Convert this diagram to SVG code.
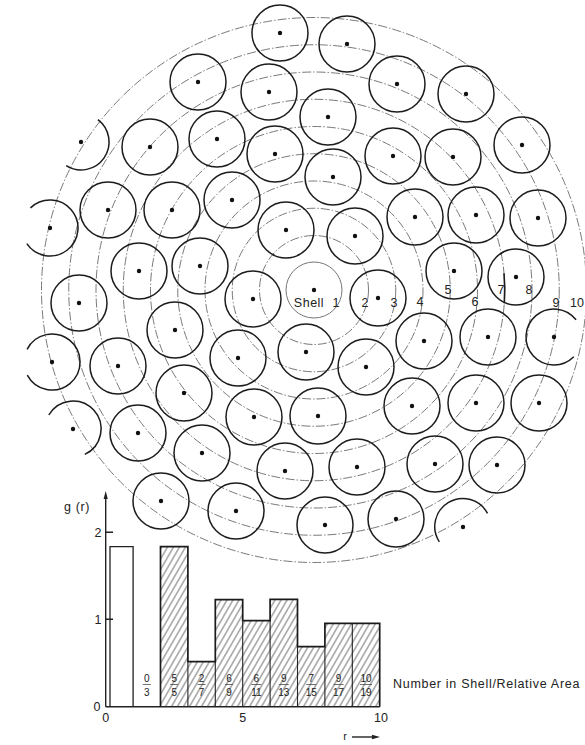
<svg xmlns="http://www.w3.org/2000/svg" width="585" height="745" viewBox="0 0 585 745">
<style>
.p{fill:none;stroke:#1c1c1c;stroke-width:1.5}
.d{fill:#111}
.ring{fill:none;stroke:#6a6a6a;stroke-width:0.9;stroke-dasharray:9 2 1.5 2}
.t{font-family:"Liberation Sans",Arial,sans-serif;fill:#222}
.lbl{font-size:12.5px;text-anchor:middle}
.fr{font-size:10px;text-anchor:middle}
.ax{fill:none;stroke:#222;stroke-width:1.4}
.fb{stroke:#333;stroke-width:0.7}
</style>
<defs>
<pattern id="hatch" patternUnits="userSpaceOnUse" width="5.2" height="10" patternTransform="rotate(30)">
<line x1="2.6" y1="0" x2="2.6" y2="10" stroke="#444" stroke-width="0.8"/>
</pattern>
</defs>
<rect width="585" height="745" fill="#fff"/>

<g id="shells">
<circle cx="314" cy="290" r="28" fill="none" stroke="#777" stroke-width="1"/>
<circle class="ring" cx="314" cy="290" r="54.5"/>
<circle class="ring" cx="314" cy="290" r="81.75"/>
<circle class="ring" cx="314" cy="290" r="109"/>
<circle class="ring" cx="314" cy="290" r="136.25"/>
<circle class="ring" cx="314" cy="290" r="163.5"/>
<circle class="ring" cx="314" cy="290" r="190.75"/>
<circle class="ring" cx="314" cy="290" r="218"/>
<circle class="ring" cx="314" cy="290" r="245.25"/>
<circle class="ring" cx="314" cy="290" r="272.5"/>
<path d="M504,273.4 A190.75,190.75 0 0 1 504.3,303.3" fill="none" stroke="#1c1c1c" stroke-width="1.6"/>
</g>

<g id="particles">
<circle class="p" cx="280" cy="33" r="28"/>
<circle class="p" cx="347" cy="44" r="28"/>
<circle class="p" cx="198" cy="82" r="28"/>
<circle class="p" cx="269" cy="92" r="28"/>
<circle class="p" cx="397" cy="84" r="28"/>
<circle class="p" cx="466" cy="94" r="28"/>
<circle class="p" cx="328" cy="117" r="28"/>
<circle class="p" cx="150" cy="147" r="28"/>
<circle class="p" cx="217" cy="139" r="28"/>
<circle class="p" cx="275" cy="154" r="28"/>
<circle class="p" cx="393" cy="156" r="28"/>
<circle class="p" cx="453" cy="157" r="28"/>
<circle class="p" cx="522" cy="145" r="28"/>
<circle class="p" cx="108" cy="210" r="28"/>
<circle class="p" cx="172" cy="210" r="28"/>
<circle class="p" cx="232" cy="200" r="28"/>
<circle class="p" cx="333" cy="177" r="28"/>
<circle class="p" cx="415" cy="217" r="28"/>
<circle class="p" cx="476" cy="215" r="28"/>
<circle class="p" cx="538" cy="218" r="28"/>
<circle class="p" cx="139" cy="271" r="28"/>
<circle class="p" cx="200" cy="266" r="28"/>
<circle class="p" cx="286" cy="230" r="28"/>
<circle class="p" cx="355" cy="236" r="28"/>
<circle class="p" cx="454" cy="271" r="28"/>
<circle class="p" cx="516" cy="277" r="28"/>
<circle class="p" cx="79" cy="303" r="28"/>
<circle class="p" cx="175" cy="330" r="28"/>
<circle class="p" cx="253" cy="299" r="28"/>
<circle class="p" cx="378" cy="298" r="28"/>
<circle class="p" cx="118" cy="366" r="28"/>
<circle class="p" cx="184" cy="393" r="28"/>
<circle class="p" cx="238" cy="358" r="28"/>
<circle class="p" cx="306" cy="352" r="28"/>
<circle class="p" cx="366" cy="367" r="28"/>
<circle class="p" cx="424" cy="341" r="28"/>
<circle class="p" cx="488" cy="337" r="28"/>
<circle class="p" cx="138" cy="433" r="28"/>
<circle class="p" cx="202" cy="453" r="28"/>
<circle class="p" cx="254" cy="417" r="28"/>
<circle class="p" cx="318" cy="416" r="28"/>
<circle class="p" cx="412" cy="406" r="28"/>
<circle class="p" cx="476" cy="403" r="28"/>
<circle class="p" cx="539" cy="403" r="28"/>
<circle class="p" cx="285" cy="471" r="28"/>
<circle class="p" cx="357" cy="467" r="28"/>
<circle class="p" cx="435" cy="464" r="28"/>
<circle class="p" cx="497" cy="465" r="28"/>
<circle class="p" cx="161" cy="501" r="28"/>
<circle class="p" cx="236" cy="511" r="28"/>
<circle class="p" cx="325" cy="525" r="28"/>
<circle class="p" cx="396" cy="519" r="28"/>
<path class="p" d="M97.9,119.6 A28,28 0 0 1 66.2,165.7"/>
<path class="p" d="M30.5,207.9 A28,28 0 1 1 26.8,243.7"/>
<path class="p" d="M27.1,349.3 A28,28 0 1 1 27.3,375.1"/>
<path class="p" d="M48.8,415 A28,28 0 1 1 84.8,454.4"/>
<path class="p" d="M573.8,356.8 A28,28 0 1 1 576.1,319.8"/>
<path class="p" d="M439.3,541.8 A28,28 0 1 1 487.5,513.4"/>
</g>

<g id="centres" class="d">
<circle cx="314" cy="290" r="2.2"/>
<circle cx="280" cy="33" r="2.2"/>
<circle cx="347" cy="44" r="2.2"/>
<circle cx="198" cy="82" r="2.2"/>
<circle cx="269" cy="92" r="2.2"/>
<circle cx="397" cy="84" r="2.2"/>
<circle cx="466" cy="94" r="2.2"/>
<circle cx="328" cy="117" r="2.2"/>
<circle cx="150" cy="147" r="2.2"/>
<circle cx="217" cy="139" r="2.2"/>
<circle cx="275" cy="154" r="2.2"/>
<circle cx="393" cy="156" r="2.2"/>
<circle cx="453" cy="157" r="2.2"/>
<circle cx="522" cy="145" r="2.2"/>
<circle cx="108" cy="210" r="2.2"/>
<circle cx="172" cy="210" r="2.2"/>
<circle cx="232" cy="200" r="2.2"/>
<circle cx="333" cy="177" r="2.2"/>
<circle cx="415" cy="217" r="2.2"/>
<circle cx="476" cy="215" r="2.2"/>
<circle cx="538" cy="218" r="2.2"/>
<circle cx="139" cy="271" r="2.2"/>
<circle cx="200" cy="266" r="2.2"/>
<circle cx="286" cy="230" r="2.2"/>
<circle cx="355" cy="236" r="2.2"/>
<circle cx="454" cy="271" r="2.2"/>
<circle cx="516" cy="277" r="2.2"/>
<circle cx="79" cy="303" r="2.2"/>
<circle cx="175" cy="330" r="2.2"/>
<circle cx="253" cy="299" r="2.2"/>
<circle cx="378" cy="298" r="2.2"/>
<circle cx="118" cy="366" r="2.2"/>
<circle cx="184" cy="393" r="2.2"/>
<circle cx="238" cy="358" r="2.2"/>
<circle cx="306" cy="352" r="2.2"/>
<circle cx="366" cy="367" r="2.2"/>
<circle cx="424" cy="341" r="2.2"/>
<circle cx="488" cy="337" r="2.2"/>
<circle cx="138" cy="433" r="2.2"/>
<circle cx="202" cy="453" r="2.2"/>
<circle cx="254" cy="417" r="2.2"/>
<circle cx="318" cy="416" r="2.2"/>
<circle cx="412" cy="406" r="2.2"/>
<circle cx="476" cy="403" r="2.2"/>
<circle cx="539" cy="403" r="2.2"/>
<circle cx="285" cy="471" r="2.2"/>
<circle cx="357" cy="467" r="2.2"/>
<circle cx="435" cy="464" r="2.2"/>
<circle cx="497" cy="465" r="2.2"/>
<circle cx="161" cy="501" r="2.2"/>
<circle cx="236" cy="511" r="2.2"/>
<circle cx="325" cy="525" r="2.2"/>
<circle cx="396" cy="519" r="2.2"/>
<circle cx="81" cy="142" r="2.2"/>
<circle cx="50" cy="228" r="2.2"/>
<circle cx="52" cy="362" r="2.2"/>
<circle cx="73" cy="429" r="2.2"/>
<circle cx="554" cy="337" r="2.2"/>
<circle cx="463" cy="527" r="2.2"/>
</g>

<g id="shell-labels" class="t lbl">
<text x="309" y="307" letter-spacing="0.5">Shell</text>
<text x="336" y="307">1</text>
<text x="365" y="307">2</text>
<text x="394" y="307">3</text>
<text x="420" y="306">4</text>
<text x="448" y="294">5</text>
<text x="475" y="306">6</text>
<text x="501" y="294">7</text>
<text x="529" y="294">8</text>
<text x="556" y="307">9</text>
<text x="577" y="307">10</text>
</g>

<g id="histogram">
<rect x="160.5" y="546.7" width="27.4" height="160" fill="url(#hatch)"/>
<rect x="187.9" y="661.7" width="27.4" height="45" fill="url(#hatch)"/>
<rect x="215.3" y="599.7" width="27.4" height="107" fill="url(#hatch)"/>
<rect x="242.7" y="620.7" width="27.4" height="86" fill="url(#hatch)"/>
<rect x="270.1" y="599.3" width="27.4" height="107.4" fill="url(#hatch)"/>
<rect x="297.5" y="646.7" width="27.4" height="60" fill="url(#hatch)"/>
<rect x="324.9" y="623.3" width="54.8" height="83.4" fill="url(#hatch)"/>
<path d="M187.9,661.7 V706.7 M215.3,661.7 V706.7 M242.7,620.7 V706.7 M270.1,620.7 V706.7 M297.5,646.7 V706.7 M324.9,646.7 V706.7 M352.3,623.3 V706.7" fill="none" stroke="#222" stroke-width="1.1"/>
<path d="M160.5,706.7 V546.7 H187.9 V661.7 H215.3 V599.7 H242.7 V620.7 H270.1 V599.3 H297.5 V646.7 H324.9 V623.3 H379.7 V706.7" fill="none" stroke="#1a1a1a" stroke-width="1.7"/>
<path d="M110,706.7 V546.7 H133.1 V706.7" fill="none" stroke="#222" stroke-width="1.3"/>
<path class="ax" d="M105.7,706.7 H379.7 M105.7,706.7 V497 M105.7,532.3 H113 M105.7,619.3 H113"/>
<polygon points="105.7,491 103.6,499 107.8,499" fill="#222"/>
<path class="ax" d="M352,737 H374" stroke-width="1"/>
<polygon points="380,737 372,734.8 372,739.2" fill="#222"/>
</g>

<g id="axis-labels" class="t">
<text x="77" y="511" font-size="12.5" text-anchor="middle" letter-spacing="0.6">g (r)</text>
<text x="98" y="536.5" font-size="12.5" text-anchor="middle">2</text>
<text x="98" y="624" font-size="12.5" text-anchor="middle">1</text>
<text x="97" y="711" font-size="12.5" text-anchor="middle">0</text>
<text x="105.7" y="722" font-size="12.5" text-anchor="middle">0</text>
<text x="242.7" y="722" font-size="12.5" text-anchor="middle">5</text>
<text x="381" y="722" font-size="12.5" text-anchor="middle">10</text>
<text x="345" y="740" font-size="11" text-anchor="middle">r</text>
<text x="393" y="688" font-size="12.5" letter-spacing="0.7">Number in Shell/Relative Area</text>
</g>

<g id="fractions" class="t fr">
<text x="146.8" y="681.5">0</text><text x="146.8" y="695.5">3</text>
<text x="174.2" y="681.5">5</text><text x="174.2" y="695.5">5</text>
<text x="201.6" y="681.5">2</text><text x="201.6" y="695.5">7</text>
<text x="229" y="681.5">6</text><text x="229" y="695.5">9</text>
<text x="256.4" y="681.5">6</text><text x="256.4" y="695.5">11</text>
<text x="283.8" y="681.5">9</text><text x="283.8" y="695.5">13</text>
<text x="311.2" y="681.5">7</text><text x="311.2" y="695.5">15</text>
<text x="338.6" y="681.5">9</text><text x="338.6" y="695.5">17</text>
<text x="366" y="681.5">10</text><text x="366" y="695.5">19</text>
<path class="fb" d="M142.8,684.5 H150.8 M170.2,684.5 H178.2 M197.6,684.5 H205.6 M225,684.5 H233 M251.4,684.5 H261.4 M278.8,684.5 H288.8 M306.2,684.5 H316.2 M333.6,684.5 H343.6 M360,684.5 H372"/>
</g>
</svg>
